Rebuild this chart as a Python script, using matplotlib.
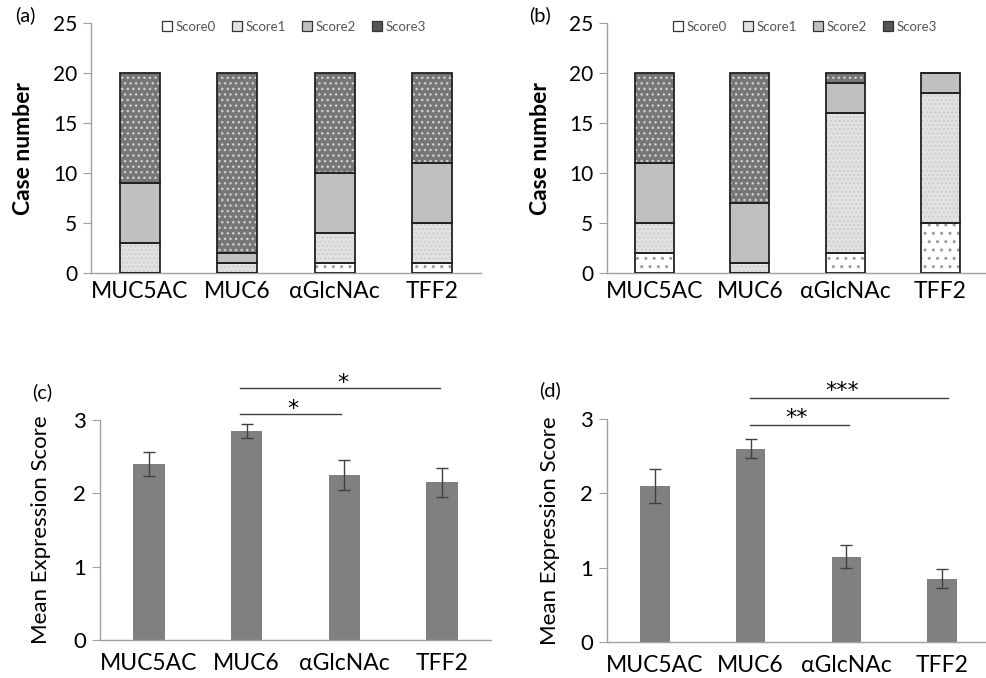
import numpy as np
import matplotlib.pyplot as plt

plt.rcParams['font.family'] = ['Lato', 'DejaVu Sans']
plt.rcParams['hatch.linewidth'] = 1.0

markers = ['MUC5AC', 'MUC6', 'αGlcNAc', 'TFF2']
score_names = ['Score0', 'Score1', 'Score2', 'Score3']

# (a) case numbers per score
a_score0 = [0, 0, 1, 1]
a_score1 = [3, 1, 3, 4]
a_score2 = [6, 1, 6, 6]
a_score3 = [11, 18, 10, 9]

# (b) case numbers per score
b_score0 = [2, 0, 2, 5]
b_score1 = [3, 1, 14, 13]
b_score2 = [6, 6, 3, 2]
b_score3 = [9, 13, 1, 0]

# (c), (d) mean expression score with error
c_mean = [2.40, 2.85, 2.25, 2.15]
c_err = [0.17, 0.10, 0.20, 0.20]
d_mean = [2.10, 2.60, 1.15, 0.85]
d_err = [0.23, 0.13, 0.15, 0.13]

# significance brackets: (x0, x1, y, label, text x, text y)
c_sig = [(0.93, 1.97, 3.08, '*', 1.47, 3.15), (0.93, 2.98, 3.44, '*', 1.98, 3.51)]
d_sig = [(0.99, 2.03, 2.92, '**', 1.48, 3.02), (0.99, 3.06, 3.28, '***', 1.96, 3.38)]

fills = ['white', '#e2e2e2', '#c0c0c0', '#767676']
hatches = ['..', '....', None, '...']
hatch_cols = ['#9a9a9a', '#cdcdcd', '#c0c0c0', '#cfcfcf']
legend_fills = ['white', '#e2e2e2', '#c0c0c0', '#555555']
axis_gray = '#a0a0a0'

W, H = 987, 678
fig = plt.figure(figsize=(W / 100, H / 100), dpi=100)


def px_axes(left, top, width, height):
    return fig.add_axes([left / W, 1 - (top + height) / H, width / W, height / H])


def style(ax, ymax, step, ysize, xpad):
    ax.set_xlim(-0.5, 3.5)
    ax.set_ylim(0, ymax)
    ax.set_yticks(np.arange(0, ymax + 0.01, step))
    ax.set_xticks(range(4))
    ax.set_xticklabels(markers, fontsize=16.5)
    for s in ['top', 'right']:
        ax.spines[s].set_visible(False)
    for s in ['left', 'bottom']:
        ax.spines[s].set_color(axis_gray)
        ax.spines[s].set_linewidth(1.0)
    ax.tick_params(axis='x', length=0, pad=xpad)
    ax.tick_params(axis='y', labelsize=ysize, length=6, color=axis_gray, pad=4)


def stacked(ax, series):
    x = np.arange(4)
    bottom = np.zeros(4)
    for i, vals in enumerate(series):
        vals = np.array(vals, dtype=float)
        ax.bar(x, vals, 0.41, bottom=bottom, color=fills[i], hatch=hatches[i],
               edgecolor=hatch_cols[i], linewidth=0, zorder=2)
        ax.bar(x, vals, 0.41, bottom=bottom, fill=False, edgecolor='#222222',
               linewidth=1.3, zorder=3)
        bottom += vals
    style(ax, 25, 5, 15, 6)
    ax.set_ylabel('Case number', fontsize=16.5, fontweight='bold')
    handles = [plt.Rectangle((0, 0), 1, 1, facecolor=legend_fills[i],
                             edgecolor='#333333', linewidth=0.9) for i in range(4)]
    ax.legend(handles, score_names, ncol=4, frameon=False, fontsize=9.5,
              loc='center', bbox_to_anchor=(0.52, 0.985), handlelength=0.75,
              handleheight=0.75, handletextpad=0.3, columnspacing=1.2,
              labelcolor='#555555')


def means(ax, vals, errs, width, sig):
    x = np.arange(4)
    ax.bar(x, vals, width, color='#808080', zorder=2)
    ax.errorbar(x, vals, yerr=errs, fmt='none', ecolor='#404040', elinewidth=1,
                capsize=4, capthick=1, zorder=3)
    style(ax, 3, 1, 16, 9)
    ax.set_ylabel('Mean Expression Score', fontsize=16)
    for x0, x1, y, lab, tx, ty in sig:
        ax.plot([x0, x1], [y, y], color='#404040', lw=1, clip_on=False)
        ax.text(tx, ty, lab, ha='center', va='center', fontsize=16,
                family='DejaVu Sans', clip_on=False)


ax_a = px_axes(91, 23, 390, 250)
stacked(ax_a, [a_score0, a_score1, a_score2, a_score3])
ax_a.yaxis.set_label_coords(-0.146, 0.5)

ax_b = px_axes(607, 23, 381, 250)
stacked(ax_b, [b_score0, b_score1, b_score2, b_score3])
ax_b.yaxis.set_label_coords(-0.147, 0.5)

ax_c = px_axes(100, 420, 391, 220)
means(ax_c, c_mean, c_err, 0.32, c_sig)
ax_c.yaxis.set_label_coords(-0.125, 0.5)

ax_d = px_axes(607, 419, 383, 223)
means(ax_d, d_mean, d_err, 0.31, d_sig)
ax_d.yaxis.set_label_coords(-0.123, 0.5)

for lab, x, y in [('(a)', 25, 15), ('(b)', 540, 15), ('(c)', 42, 392), ('(d)', 550, 390)]:
    fig.text(x / W, 1 - y / H, lab, ha='center', va='center', fontsize=14.5)

fig.savefig('out.png', dpi=100)
